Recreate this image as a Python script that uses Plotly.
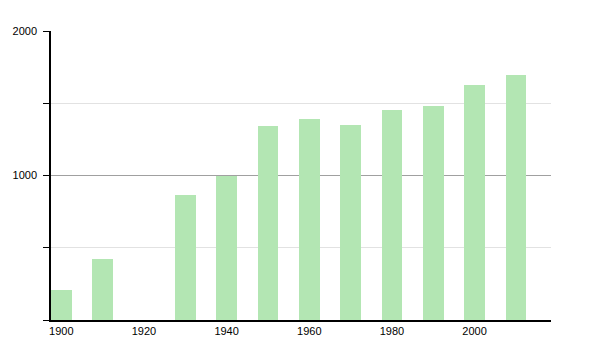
import plotly.graph_objects as go

years = [1900, 1910, 1920, 1930, 1940, 1950, 1960, 1970, 1980, 1990, 2000, 2010]
population = [205, 420, None, 863, 996, 1342, 1391, 1349, 1453, 1481, 1626, 1695]
x_tick_labels = [1900, 1920, 1940, 1960, 1980, 2000]
y_major_ticks = [0, 1000, 2000]
y_major_text = ["", "1000", "2000"]
y_minor_ticks = [500, 1500]

bar_width = 5

fig = go.Figure(go.Bar(
    x=years, y=population, width=bar_width, offset=0,
    marker=dict(color="#b3e6b3", line=dict(width=0)),
    hoverinfo="x+y",
))

fig.update_layout(
    width=600, height=350,
    margin=dict(l=51, r=49, t=31, b=30),
    paper_bgcolor="white", plot_bgcolor="white",
    showlegend=False,
    font=dict(family="Liberation Sans, Arial, sans-serif", size=11, color="black"),
    xaxis=dict(
        range=[1900, 2021],
        tickvals=[t + bar_width / 2 for t in x_tick_labels],
        ticktext=[str(t) for t in x_tick_labels],
        ticks="", showgrid=False, zeroline=False,
        showline=True, linecolor="black", linewidth=1.5,
        tickfont=dict(size=11, color="black"),
    ),
    yaxis=dict(
        range=[0, 2000],
        tickvals=y_major_ticks, ticktext=y_major_text,
        ticks="outside", ticklen=6, tickcolor="black", tickwidth=1,
        showgrid=True, gridcolor="#a0a0a0", gridwidth=1,
        zeroline=False,
        showline=True, linecolor="black", linewidth=1.5,
        tickfont=dict(size=11, color="black"),
        ticklabelstandoff=4,
        minor=dict(tickvals=y_minor_ticks, ticks="outside", ticklen=6,
                   tickcolor="black", showgrid=True, gridcolor="#e2e2e2", gridwidth=1),
    ),
    bargap=0,
)

fig.write_html("out.html")
